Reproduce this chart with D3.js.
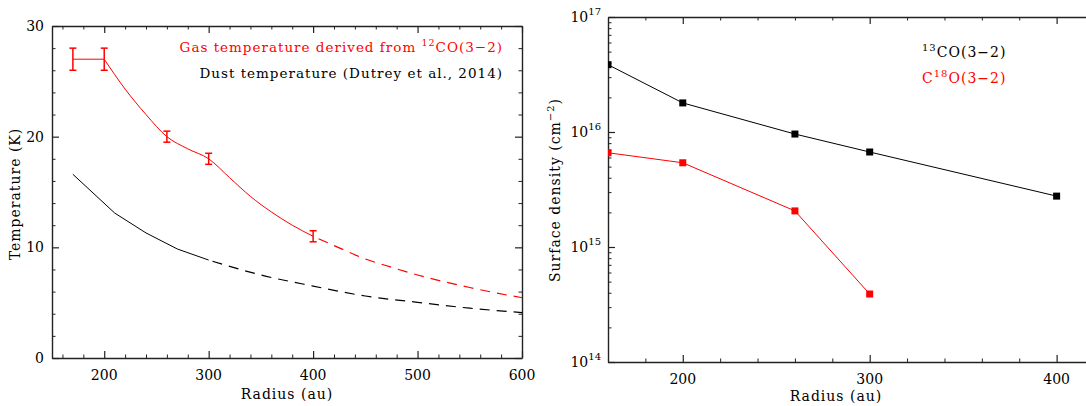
<!DOCTYPE html>
<html lang="en">
<head>
<meta charset="UTF-8">
<title>Temperature and surface density profiles</title>
<script src="https://cdnjs.cloudflare.com/ajax/libs/d3/7.8.5/d3.min.js"></script>
<style>
  body { margin: 0; background: #fff; }
  svg { display: block; }
  text { font-family: 'DejaVu Serif', serif; fill: #000; }
  .wide { letter-spacing: 1px; }
  .axis path, .axis line { stroke: #222; }
</style>
</head>
<body>
<script>
  // ---- left panel: temperature profiles ----
  const errRadius = [170, 200, 260, 300, 400];
  const errLow = [26, 26, 19.5, 17.5, 10.5];
  const errHigh = [28, 28, 20.5, 18.5, 11.5];

  const gasFlatRadius = [170, 200];
  const gasFlatTemp = [27, 27];
  const gasRadius = [200, 220, 240, 260, 280, 300, 320, 340, 360, 380, 400];
  const gasTemp = [27, 24.3, 22.0, 20, 18.9, 18, 16.3, 14.6, 13.2, 12.0, 11.0];
  const gasExtRadius = [400, 425, 450, 475, 500, 525, 550, 575, 600];
  const gasExtTemp = [11, 9.95, 8.95, 8.2, 7.5, 6.9, 6.37, 5.88, 5.45];

  const dustRadius = [170, 210, 240, 270, 300];
  const dustTemp = [16.6, 13.1, 11.3, 9.85, 8.85];
  const dustExtRadius = [300, 350, 400, 450, 500, 550, 600];
  const dustExtTemp = [8.85, 7.5, 6.5, 5.6, 5.03, 4.5, 4.1];

  const tempTicks = [0, 10, 20, 30];
  const radiusTicksLeft = [200, 300, 400, 500, 600];

  // ---- right panel: surface densities ----
  const densRadius13 = [160, 200, 260, 300, 400];
  const dens13 = [3.85e16, 1.79e16, 9.6e15, 6.7e15, 2.77e15];
  const densRadius18 = [160, 200, 260, 300];
  const dens18 = [6.6e15, 5.4e15, 2.06e15, 3.9e14];

  const densExponents = [14, 15, 16, 17];
  const radiusTicksRight = [200, 300, 400];

  const RED = "#ff0000";

  const svg = d3.select("body").append("svg")
    .attr("width", 1086)
    .attr("height", 406);

  const zip = (a, b) => a.map((v, i) => [v, b[i]]);

  // draws a box with inward ticks on all four sides
  function frame(x, y, majorX, minorX, majorY, minorY) {
    const [x0, x1] = x.range();
    const [y0, y1] = y.range(); // y0 bottom, y1 top
    const sides = [
      [d3.axisBottom, x, y0, true],
      [d3.axisTop, x, y1, true],
      [d3.axisLeft, y, x0, false],
      [d3.axisRight, y, x1, false]
    ];
    sides.forEach(([axisFn, sc, pos, horiz]) => {
      const maj = horiz ? majorX : majorY;
      const min = horiz ? minorX : minorY;
      const gMin = svg.append("g").attr("class", "axis")
        .attr("transform", horiz ? `translate(0,${pos})` : `translate(${pos},0)`)
        .call(axisFn(sc).tickValues(min).tickSize(-3.5).tickSizeOuter(0).tickFormat(""));
      gMin.select(".domain").attr("stroke-width", 1.4);
      gMin.selectAll(".tick line").attr("stroke-width", 1);
      const gMaj = svg.append("g").attr("class", "axis")
        .attr("transform", horiz ? `translate(0,${pos})` : `translate(${pos},0)`)
        .call(axisFn(sc).tickValues(maj).tickSize(-7).tickSizeOuter(0).tickFormat(""));
      gMaj.select(".domain").remove();
      gMaj.selectAll(".tick line").attr("stroke-width", 1.2);
    });
  }

  // ================= LEFT PANEL =================
  const xL = d3.scaleLinear().domain([150, 600]).range([52, 522]);
  const yL = d3.scaleLinear().domain([0, 30]).range([358, 26]);

  frame(xL, yL, radiusTicksLeft, d3.range(160, 600, 20).filter(v => v % 100),
        tempTicks, d3.range(2, 30, 2).filter(v => v % 10));

  svg.append("g").selectAll("text").data(tempTicks).join("text")
    .attr("x", 44).attr("y", d => yL(d))
    .attr("dy", "0.36em")
    .attr("text-anchor", "end")
    .attr("font-size", 14)
    .text(d => d);

  svg.append("g").selectAll("text").data(radiusTicksLeft).join("text")
    .attr("x", d => xL(d)).attr("y", 380)
    .attr("text-anchor", "middle")
    .attr("font-size", 14)
    .text(d => d);

  svg.append("text").attr("class", "wide")
    .attr("x", 287).attr("y", 399)
    .attr("text-anchor", "middle").attr("font-size", 14)
    .text("Radius (au)");

  svg.append("text").attr("class", "wide")
    .attr("transform", "translate(20,194) rotate(-90)")
    .attr("text-anchor", "middle").attr("font-size", 14)
    .text("Temperature (K)");

  const lineL = d3.line().x(d => xL(d[0])).y(d => yL(d[1]));
  const smoothL = d3.line().x(d => xL(d[0])).y(d => yL(d[1])).curve(d3.curveMonotoneX);

  // dust temperature
  svg.append("path").datum(zip(dustRadius, dustTemp))
    .attr("d", lineL).attr("fill", "none").attr("stroke", "#000").attr("stroke-width", 1);
  svg.append("path").datum(zip(dustExtRadius, dustExtTemp))
    .attr("d", smoothL).attr("fill", "none").attr("stroke", "#000").attr("stroke-width", 1.2)
    .attr("stroke-dasharray", "10,7").attr("stroke-dashoffset", -4);

  // gas temperature
  svg.append("path").datum(zip(gasFlatRadius, gasFlatTemp))
    .attr("d", lineL).attr("fill", "none").attr("stroke", RED).attr("stroke-width", 1);
  svg.append("path").datum(zip(gasRadius, gasTemp))
    .attr("d", smoothL).attr("fill", "none").attr("stroke", RED).attr("stroke-width", 1);
  svg.append("path").datum(zip(gasExtRadius, gasExtTemp))
    .attr("d", smoothL).attr("fill", "none").attr("stroke", RED).attr("stroke-width", 1.2)
    .attr("stroke-dasharray", "10,7").attr("stroke-dashoffset", -6);

  // error bars
  const eb = svg.append("g").attr("stroke", RED).attr("stroke-width", 1.5);
  errRadius.forEach((r, i) => {
    const cx = xL(r);
    eb.append("line").attr("x1", cx).attr("x2", cx)
      .attr("y1", yL(errLow[i])).attr("y2", yL(errHigh[i]));
    [errLow[i], errHigh[i]].forEach(v => {
      eb.append("line").attr("x1", cx - 3.5).attr("x2", cx + 3.5)
        .attr("y1", yL(v)).attr("y2", yL(v));
    });
  });

  // legend
  const gasLabel = svg.append("text").attr("class", "wide")
    .attr("x", 503).attr("y", 52)
    .attr("text-anchor", "end").attr("font-size", 13.5)
    .style("fill", RED);
  gasLabel.append("tspan").text("Gas temperature derived from ");
  gasLabel.append("tspan").attr("font-size", 9.5).attr("dy", -6).text("12");
  gasLabel.append("tspan").attr("dy", 6).text("CO(3\u22122)");

  svg.append("text").attr("class", "wide")
    .attr("x", 503).attr("y", 78)
    .attr("text-anchor", "end").attr("font-size", 13.5)
    .text("Dust temperature (Dutrey et al., 2014)");

  // ================= RIGHT PANEL =================
  const xR = d3.scaleLinear().domain([160, 420]).range([608, 1094]);
  const yR = d3.scaleLog().domain([1e14, 1e17]).range([362, 17]);

  const logMinor = [];
  densExponents.slice(0, -1).forEach(e => {
    for (let k = 2; k <= 9; k++) logMinor.push(k * Math.pow(10, e));
  });
  frame(xR, yR, radiusTicksRight, d3.range(180, 420, 20).filter(v => v % 100),
        densExponents.map(e => Math.pow(10, e)), logMinor);

  densExponents.forEach(e => {
    const t = svg.append("text")
      .attr("x", 601).attr("y", yR(Math.pow(10, e)) + 5)
      .attr("text-anchor", "end").attr("font-size", 14);
    t.append("tspan").text("10");
    t.append("tspan").attr("font-size", 10).attr("dy", -7).text(e);
  });

  svg.append("g").selectAll("text").data(radiusTicksRight).join("text")
    .attr("x", d => xR(d)).attr("y", 384)
    .attr("text-anchor", "middle")
    .attr("font-size", 14)
    .text(d => d);

  svg.append("text").attr("class", "wide")
    .attr("x", 836).attr("y", 401)
    .attr("text-anchor", "middle").attr("font-size", 14)
    .text("Radius (au)");

  const yTitle = svg.append("text").attr("class", "wide")
    .attr("transform", "translate(560,190) rotate(-90)")
    .attr("text-anchor", "middle").attr("font-size", 14);
  yTitle.append("tspan").text("Surface density (cm");
  yTitle.append("tspan").attr("font-size", 10).attr("dy", -6).text("\u22122");
  yTitle.append("tspan").attr("dy", 6).text(")");

  svg.append("clipPath").attr("id", "clipR")
    .append("rect").attr("x", 608).attr("y", 17).attr("width", 486).attr("height", 345);

  const plotR = svg.append("g").attr("clip-path", "url(#clipR)");
  const lineR = d3.line().x(d => xR(d[0])).y(d => yR(d[1]));

  [[densRadius13, dens13, "#000"], [densRadius18, dens18, RED]].forEach(([rs, vs, col]) => {
    const pts = zip(rs, vs);
    plotR.append("path").datum(pts)
      .attr("d", lineR).attr("fill", "none").attr("stroke", col).attr("stroke-width", 1);
    plotR.selectAll(null).data(pts).join("rect")
      .attr("x", d => xR(d[0]) - 3.5).attr("y", d => yR(d[1]) - 3.5)
      .attr("width", 7).attr("height", 7)
      .attr("fill", col);
  });

  const l13 = svg.append("text").attr("class", "wide")
    .attr("x", 922).attr("y", 57).attr("font-size", 14);
  l13.append("tspan").attr("font-size", 10).attr("dy", -6).text("13");
  l13.append("tspan").attr("dy", 6).text("CO(3\u22122)");

  const l18 = svg.append("text").attr("class", "wide")
    .attr("x", 922).attr("y", 83).attr("font-size", 14).style("fill", RED);
  l18.append("tspan").text("C");
  l18.append("tspan").attr("font-size", 10).attr("dy", -6).text("18");
  l18.append("tspan").attr("dy", 6).text("O(3\u22122)");
</script>
</body>
</html>
